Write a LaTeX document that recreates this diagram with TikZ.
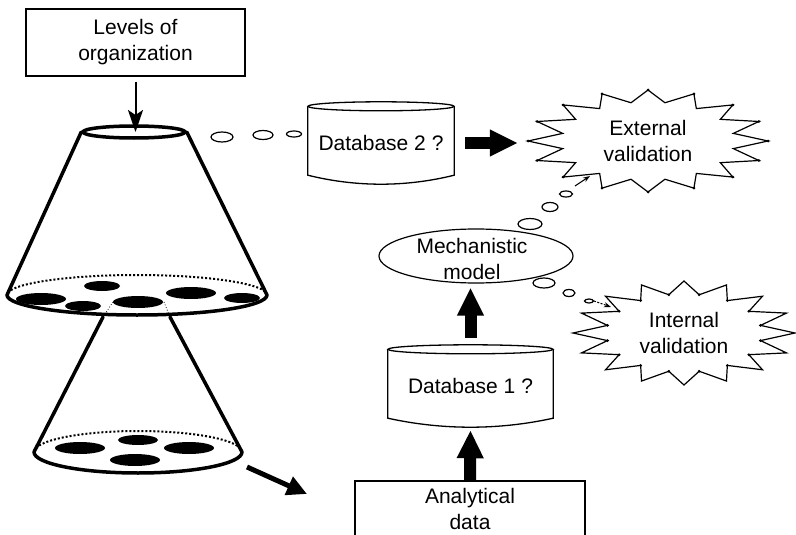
\documentclass[tikz,border=0pt]{standalone}
\usepackage{fontspec}
\setmainfont{Liberation Sans}
\usetikzlibrary{shapes.geometric, arrows.meta, calc}

\newcommand\dbshape[2]{%
  \draw[dbline] ($(#1.north)+(0,4.5)$) ellipse [x radius=#2pt, y radius=4.5pt];
  \draw[dbline] ($(#1.north west)+(0,4.5)$) -- ($(#1.south west)+(0,-9)$)
    .. controls ($(#1.south west)!0.33!(#1.south east)+(0,3)$) and ($(#1.south west)!0.67!(#1.south east)+(0,3)$)
    .. ($(#1.south east)+(0,-9)$) -- ($(#1.north east)+(0,4.5)$);}

\begin{document}
\begin{tikzpicture}[x=1pt, y=-1pt,
  txt/.style={font=\fontsize{21}{26}\selectfont, align=center, inner sep=0pt},
  box/.style={draw, line width=1.2pt},
  dbline/.style={line width=1.3pt},
  cone/.style={line width=3.5pt, line cap=round, line join=round},
  rim/.style={line width=2pt, dash pattern=on 2pt off 2pt},
  hole/.style={fill=black},
  bubble/.style={draw, line width=1.2pt, fill=white},
  burst/.style={line width=1.2pt, line join=miter},
  bigarrow/.style={line width=12pt, -{Triangle[length=28pt, width=25pt]}},
  medarrow/.style={line width=5pt, -{Triangle[length=20pt, width=19pt]}},
  thinarrow/.style={line width=2pt, -{Stealth[length=22pt, width=15pt, inset=5pt]}},
  smallarrow/.style={line width=1pt, -{Stealth[length=7pt, width=5pt]}}
]
\useasboundingbox (0,0) rectangle (796,535);

% ---------- top cone ----------
\draw[rim] (267,295) arc[start angle=0, end angle=180, x radius=130pt, y radius=20pt];
\draw[cone] (7,295) arc[start angle=180, end angle=360, x radius=130pt, y radius=20pt];
\node[draw, ellipse, cone, fill=white, minimum width=102pt, minimum height=12pt, inner sep=0pt] (topring) at (134,132) {};
\draw[cone] (topring.west) -- (7,295);
\draw[cone] (topring.east) -- (267,295);
\fill[hole] (102,286) ellipse [x radius=18pt, y radius=5pt];
\fill[hole] (41,299) ellipse [x radius=25pt, y radius=6pt];
\fill[hole] (83,306) ellipse [x radius=18pt, y radius=5pt];
\fill[hole] (138,302) ellipse [x radius=25pt, y radius=6pt];
\fill[hole] (191,293) ellipse [x radius=25pt, y radius=6pt];
\fill[hole] (242,298) ellipse [x radius=18pt, y radius=5pt];

% ---------- lower cone ----------
\draw[line width=0.8pt, dotted] (113,302) -- (103,317);
\draw[line width=0.8pt, dotted] (164,302) -- (170,317);
\draw[cone] (103,317) -- (34,452);
\draw[cone] (170,317) -- (242,452);
\draw[rim] (242,452) arc[start angle=0, end angle=180, x radius=104pt, y radius=21pt];
\draw[cone] (34,452) arc[start angle=180, end angle=360, x radius=104pt, y radius=21pt];
\fill[hole] (138,440) ellipse [x radius=20pt, y radius=5pt];
\fill[hole] (80,448) ellipse [x radius=25pt, y radius=6pt];
\fill[hole] (189,448) ellipse [x radius=25pt, y radius=6pt];
\fill[hole] (135,460) ellipse [x radius=25pt, y radius=6pt];

% ---------- boxes ----------
\node[box, txt, minimum width=219pt, minimum height=67pt] (levels) at (135.5,42.5) {Levels of\\organization};
\node[box, txt, minimum width=230pt, minimum height=56pt] (ana) at (470,509) {Analytical\\data};

% ---------- databases ----------
\node[txt, minimum width=146pt, minimum height=82pt] (db2) at (381,143) {Database 2 ?};
\dbshape{db2}{73}
\node[txt, minimum width=165pt, minimum height=82pt] (db1) at (470.5,386) {Database 1 ?};
\dbshape{db1}{82.5}

% ---------- mechanistic model ----------
\node[draw, ellipse, line width=1.2pt, minimum width=194pt, minimum height=54pt, inner sep=0pt] (mech) at (476,256) {};
\node[txt] (mechtxt) at (472,259) {Mechanistic\\model};

% ---------- external validation ----------
\node[ellipse, minimum width=240pt, minimum height=102pt, txt] (ext) at (648,141) {External\\validation};
\draw[burst] (768,141) \foreach \k in {0,...,15}{
  -- ({648+87*cos(\k*22.5+11.25)},{141-39*sin(\k*22.5+11.25)})
  -- ({648+120*cos((\k+1)*22.5)},{141-51*sin((\k+1)*22.5)}) } -- cycle;
\foreach \k in {0,...,15} \fill ({648+120*cos(\k*22.5)},{141-51*sin(\k*22.5)}) circle (1.5pt);

% ---------- internal validation ----------
\node[ellipse, minimum width=222pt, minimum height=106pt, txt] (int) at (684,333) {Internal\\validation};
\draw[burst] (795,333) \foreach \k in {0,...,15}{
  -- ({684+78*cos(\k*22.5+11.25)},{333-39*sin(\k*22.5+11.25)})
  -- ({684+111*cos((\k+1)*22.5)},{333-52*sin((\k+1)*22.5)}) } -- cycle;
\foreach \k in {0,...,15} \fill ({684+78*cos(\k*22.5+11.25)},{333-39*sin(\k*22.5+11.25)}) circle (1.5pt);

% ---------- thought bubbles ----------
\draw[bubble] (222,137) ellipse [x radius=11pt, y radius=5pt];
\draw[bubble] (263,135) ellipse [x radius=10pt, y radius=4.5pt];
\draw[bubble] (294,134) ellipse [x radius=7.5pt, y radius=3pt];

\draw[bubble] (530,224) ellipse [x radius=12pt, y radius=5.5pt];
\draw[bubble] (550,207) ellipse [x radius=8pt, y radius=4.5pt];
\draw[bubble] (566,194) ellipse [x radius=6.5pt, y radius=3pt];

\draw[bubble] (544,283) ellipse [x radius=11pt, y radius=5pt];
\draw[bubble] (569,293) ellipse [x radius=6pt, y radius=3.5pt];
\draw[bubble] (589,301) ellipse [x radius=4.5pt, y radius=2pt];

% ---------- connectors ----------
\coordinate (conetail) at (247,467);
\coordinate (conehead) at (307,494);
\coordinate (toext) at (590,176);
\coordinate (fromext) at (575,186);
\coordinate (toint) at (611,307);
\coordinate (fromint) at (594,301);

\draw[thinarrow, shorten <=5pt] (levels.south) -- (levels.south |- topring.center);
\draw[medarrow] (conetail) -- (conehead);
\draw[bigarrow, shorten <=11pt, shorten >=10pt] (db2.east) -- (db2.east -| ext.west);
\draw[bigarrow, shorten <=7pt, shorten >=4pt] (db1.north) -- (db1.north |- mech.south);
\draw[bigarrow, shorten >=3pt] (ana.north) -- (db1.south);
\draw[smallarrow] (fromext) -- (toext);
\draw[smallarrow, dash pattern=on 2pt off 1.5pt] (fromint) -- (toint);
\end{tikzpicture}
\end{document}
